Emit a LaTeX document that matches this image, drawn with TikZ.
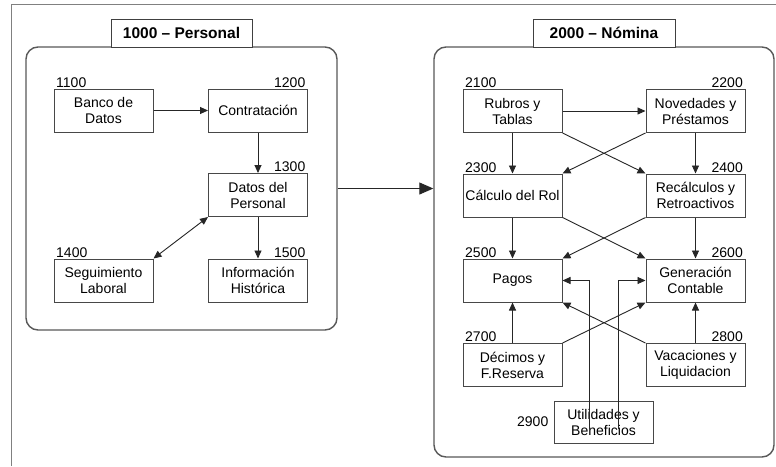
\documentclass[tikz,border=0pt]{standalone}
\usepackage{fontspec}
\setmainfont{Liberation Sans}
\usetikzlibrary{arrows.meta,calc}
\begin{document}
\begin{tikzpicture}[x=1pt,y=-1pt,
  every node/.style={font=\fontsize{14}{16}\selectfont},
  box/.style={draw=black!72, line width=1pt, fill=white, minimum width=99pt, minimum height=43pt, inner sep=0pt, align=center},
  container/.style={draw=black!65, line width=1.4pt, rounded corners=12pt, inner sep=0pt},
  title/.style={draw=black!75, line width=1pt, fill=white, inner sep=0pt, font=\fontsize{15.5}{18}\selectfont\bfseries},
  numl/.style={anchor=south west, inner xsep=2.5pt, inner ysep=1pt},
  numr/.style={anchor=south east, inner xsep=2.5pt, inner ysep=1pt},
  conn/.style={draw=black!85, line width=0.9pt, -{Triangle[length=8pt,width=7pt]}},
  bigconn/.style={draw=black!85, line width=1pt, -{Triangle[length=14pt,width=12pt]}},
]
\useasboundingbox (0,0) rectangle (776,466);
\fill[white] (0,0) rectangle (776,466);
\draw[black!50, line width=1.5pt] (11.5,466) -- (11.5,4.5) -- (776,4.5);

% containers
\node[container, minimum width=311pt, minimum height=283pt] (lc) at (181.5,188.5) {};
\node[container, minimum width=340pt, minimum height=410pt] (rc) at (604,252) {};
\node[title, minimum width=141pt, minimum height=28pt] (lt) at (181.5,33) {1000 -- Personal};
\node[title, minimum width=142pt, minimum height=28pt] (rt) at (604,33) {2000 -- Nómina};

% left boxes
\node[box] (b1100) at (103.5,110.5) {Banco de\\Datos};
\node[box] (b1200) at (258,110.5) {Contratación};
\node[box] (b1300) at (258,195) {Datos del\\Personal};
\node[box] (b1400) at (103.5,280.5) {Seguimiento\\Laboral};
\node[box] (b1500) at (258,280.5) {Información\\Histórica};
\node[numl] (n1100) at (b1100.north west) {1100};
\node[numr] (n1200) at (b1200.north east) {1200};
\node[numr] (n1300) at (b1300.north east) {1300};
\node[numl] (n1400) at (b1400.north west) {1400};
\node[numr] (n1500) at (b1500.north east) {1500};

% right boxes
\node[box] (b2100) at (512.5,111) {Rubros y\\Tablas};
\node[box] (b2200) at (695.5,111) {Novedades y\\Préstamos};
\node[box] (b2300) at (512.5,195.5) {Cálculo del Rol};
\node[box] (b2400) at (695.5,195.5) {Recálculos y\\Retroactivos};
\node[box] (b2500) at (512.5,280.5) {Pagos};
\node[box] (b2600) at (695.5,280.5) {Generación\\Contable};
\node[box] (b2700) at (512.5,365) {Décimos y\\F.Reserva};
\node[box] (b2800) at (695.5,365) {Vacaciones y\\Liquidacion};
\node[box, minimum height=42pt] (b2900) at (603.5,422) {Utilidades y\\Beneficios};
\node[numl] (n2100) at (b2100.north west) {2100};
\node[numr] (n2200) at (b2200.north east) {2200};
\node[numl] (n2300) at (b2300.north west) {2300};
\node[numr] (n2400) at (b2400.north east) {2400};
\node[numl] (n2500) at (b2500.north west) {2500};
\node[numr] (n2600) at (b2600.north east) {2600};
\node[numl] (n2700) at (b2700.north west) {2700};
\node[numr] (n2800) at (b2800.north east) {2800};
\node[anchor=east, inner xsep=5pt] (n2900) at (b2900.west) {2900};

% left connectors
\draw[conn] (b1100.east) -- (b1200.west);
\draw[conn] (b1200.south) -- (b1300.north);
\draw[conn] (b1300.south) -- (b1500.north);
\draw[conn, {Triangle[length=8pt,width=7pt]}-{Triangle[length=8pt,width=7pt]}] (b1300.south west) -- (b1400.north east);

% container connector
\draw[bigconn] (lc.east) -- (rc.west |- lc.east);

% right connectors
\draw[conn] (b2100.east) -- (b2200.west);
\draw[conn] (b2100.south) -- (b2300.north);
\draw[conn] (b2200.south) -- (b2400.north);
\draw[conn] (b2100.south east) -- (b2400.north west);
\draw[conn] (b2200.south west) -- (b2300.north east);
\draw[conn] (b2300.south) -- (b2500.north);
\draw[conn] (b2400.south) -- (b2600.north);
\draw[conn] (b2300.south east) -- (b2600.north west);
\draw[conn] (b2400.south west) -- (b2500.north east);
\draw[conn] (b2700.north) -- (b2500.south);
\draw[conn] (b2800.north) -- (b2600.south);
\draw[conn] (b2700.north east) -- (b2600.south west);
\draw[conn] (b2800.north west) -- (b2500.south east);
\coordinate (u1) at ([xshift=-14.5pt,yshift=-7pt]b2900.center);
\coordinate (u2) at ([xshift=14.5pt,yshift=-7pt]b2900.center);
\draw[conn] (u1) |- (b2500.east);
\draw[conn] (u2) |- (b2600.west);
\end{tikzpicture}
\end{document}
